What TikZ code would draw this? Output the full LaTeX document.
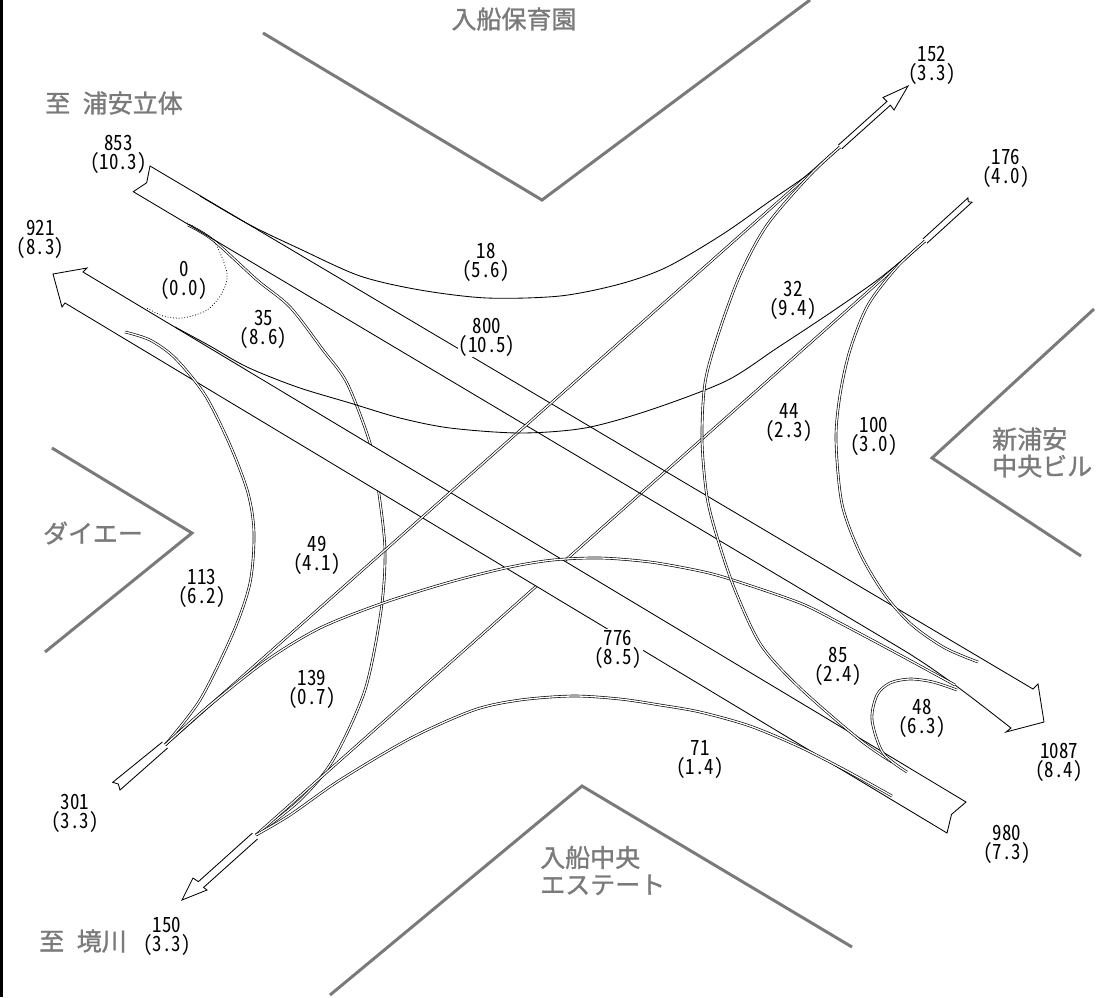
\documentclass[tikz,border=0pt]{standalone}
\usepackage{fontspec}
\newfontfamily\cjkfont[FakeBold=1.2]{Noto Sans CJK JP}
\newfontfamily\numfont[RawFeature=+hwid,FakeStretch=0.9]{Noto Sans CJK JP}
\definecolor{bldg}{RGB}{122,122,122}
\tikzset{
  ln/.style={draw=black, line width=0.85pt},
  dl/.style={draw=black, double=white, line width=0.65pt, double distance=1.3pt},
  dotln/.style={draw=black, line width=0.8pt, dotted},
  bandst/.style={draw=black, line width=0.85pt, line join=miter},
  bldgst/.style={draw=bldg, line width=3pt},
  numlbl/.style={font=\numfont\fontsize{21}{19}\selectfont, align=center, inner sep=1pt},
  graylbl/.style={font=\cjkfont\fontsize{25}{27}\selectfont, text=bldg, inner sep=0pt},
}
\begin{document}
\begin{tikzpicture}[x=1pt,y=-1pt]
\useasboundingbox (0,0) rectangle (1102,997);
% left border
\draw[line width=3pt] (1.5,0) -- (1.5,997);
% buildings
\draw[bldgst] (263,33) -- (542,200) -- (810,0);
\draw[bldgst] (52,448) -- (192,533) -- (45,652);
\draw[bldgst] (1094,309) -- (932,458) -- (1081,556);
\draw[bldgst] (330,995) -- (582,786) -- (852,947);

% named end points
\coordinate (p301) at (165,745);
\coordinate (p152) at (840,147);
\coordinate (p176) at (925,241);
\coordinate (p150) at (256,835);

% flows hidden under band B
\draw[dl] plot[smooth] coordinates {(188,225) (213,240) (257,280) (290,307) (323,350) (347,383) (370,443) (378,487) (385,550) (381,611) (365,690) (333,760) (300,800) (p150)};
\draw[dl] (p176) -- (p150);

% band B (980 -> 921)
\filldraw[bandst, fill=white] (83,272) -- (966,802) -- (951.5,814.4) -- (947,833) -- (65,303) -- (62,307) -- (53,274) -- (87,268) -- cycle;
% band A (853 -> 1087)
\draw[bandst] (150,166) -- (1033,689) -- (1038,684) -- (1044,722) -- (1006,732) -- (1011,728) .. controls (975,700) and (940,672) .. (900,648) -- (133.3,191.7) -- (146.7,182.7) -- cycle;

% other flows
\draw[dl] (p301) -- (p152);
\draw[ln] plot[smooth] coordinates {(200,196) (250,225) (300,249) (360,276) (420,290) (487,298) (560,296) (620,284) (667,267) (723,234) (770,201) (810,173) (p152)};
\draw[ln] plot[smooth] coordinates {(p176) (880,278) (830,313) (777,348) (726,381) (650,410) (585,428) (520,433) (450,428) (400,418) (350,403) (297,387) (247,367) (210,346) (175,327)};
\draw[dotln] plot[smooth] coordinates {(187,223) (213,240) (227,273) (222,293) (207,310) (183,318) (163,316) (147,308)};
\draw[dl] plot[smooth] coordinates {(p301) (200,700) (233,633) (250,583) (254,533) (248,493) (230,445) (205,395) (175,358) (150,340) (125,332)};
\draw[dl] plot[smooth] coordinates {(p301) (210,705) (267,660) (320,628) (383,603) (450,582) (510,567) (553,560) (600,558) (650,562) (700,571) (733,580) (800,603) (840,623) (900,655) (955,685)};
\draw[dl] plot[smooth] coordinates {(892,796) (845,770) (800,747) (750,726) (700,712) (660,705) (620,699) (573,696) (520,700) (474,710) (411,738) (340,780) (290,815) (p150)};
\draw[dl] plot[smooth] coordinates {(892,762) (860,740) (800,688) (761,645) (735,590) (718,540) (707,497) (702,440) (705,383) (718,335) (740,275) (767,225) (810,175) (p152)};
\draw[dl] plot[smooth] coordinates {(907,772) (883,753) (872,720) (877,695) (890,683) (910,679) (933,682) (957,690)};
\draw[dl] plot[smooth] coordinates {(p176) (897,267) (868,305) (850,350) (840,395) (836,440) (842,504) (860,553) (885,595) (912,625) (945,648) (978,662)};

% small arrows and tails
\filldraw[bandst, fill=white] (838.3,145.1) -- (887,101.4) -- (883,97.5) -- (908,86) -- (894,110) -- (890.4,105.2) -- (841.7,148.9);
\filldraw[bandst, fill=white] (252.4,833.1) -- (198.4,881.6) -- (193,878) -- (182,900) -- (207,890) -- (203.6,887.4) -- (257.6,838.9);
\filldraw[bandst, fill=white] (162.4,742) -- (112.7,782.3) -- (118.3,784) -- (120,790) -- (167.6,748);
\filldraw[bandst, fill=white] (923,238.8) -- (968,197.8) -- (968.2,201.7) -- (972,202.2) -- (927,243.2);

% gray labels
\node[graylbl] (lHoiku) at (514,19) {入船保育園};
\node[graylbl] (lUrayasu) at (114,103) {至\hspace{0.5em}浦安立体};
\node[graylbl] (lSakai) at (83,941) {至\hspace{0.5em}境川};
\node[graylbl] (lDaiei) at (93,533) {ダイエー};
\node[graylbl, anchor=west, align=left] (lShin) at (992,452.5) {新浦安\\中央ビル};
\node[graylbl, anchor=west, align=left] (lIrifuna) at (540,870.5) {入船中央\\エステート};

% flow labels
\node[numlbl] (n853) at (118.5,154.5) {853\\(10.3)};
\node[numlbl] (n921) at (40.5,239.5) {921\\(8.3)};
\node[numlbl] (n0) at (184,280.5) {0\\(0.0)};
\node[numlbl] (n35) at (263.5,329) {35\\(8.6)};
\node[numlbl] (n18) at (486,262.5) {18\\(5.6)};
\node[numlbl, fill=white] (n800) at (487,337) {800\\(10.5)};
\node[numlbl] (n152) at (932,65) {152\\(3.3)};
\node[numlbl] (n176) at (1006,168) {176\\(4.0)};
\node[numlbl] (n32) at (793,300) {32\\(9.4)};
\node[numlbl] (n44) at (789,422.5) {44\\(2.3)};
\node[numlbl] (n100) at (874,436) {100\\(3.0)};
\node[numlbl] (n49) at (317,555) {49\\(4.1)};
\node[numlbl] (n113) at (202,588) {113\\(6.2)};
\node[numlbl] (n139) at (312,689) {139\\(0.7)};
\node[numlbl, fill=white] (n776) at (618,649) {776\\(8.5)};
\node[numlbl] (n85) at (838,666) {85\\(2.4)};
\node[numlbl] (n48) at (922,718) {48\\(6.3)};
\node[numlbl] (n71) at (700,760) {71\\(1.4)};
\node[numlbl] (n1087) at (1059,762.5) {1087\\(8.4)};
\node[numlbl] (n980) at (1007,844) {980\\(7.3)};
\node[numlbl] (n301) at (75,813) {301\\(3.3)};
\node[numlbl] (n150) at (167,936.5) {150\\(3.3)};
\end{tikzpicture}
\end{document}
